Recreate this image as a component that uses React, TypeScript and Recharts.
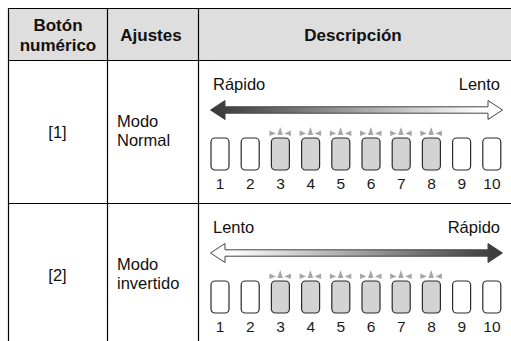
import React from 'react';
import { ComposedChart, Bar, XAxis, YAxis, LabelList } from 'recharts';

const FONT = '"Liberation Sans", Arial, Helvetica, sans-serif';

// buttons shown under each arrow
const buttonLabels = ['1', '2', '3', '4', '5', '6', '7', '8', '9', '10'];
const buttonSize = [1, 1, 1, 1, 1, 1, 1, 1, 1, 1];
const litButtons = [0, 0, 1, 1, 1, 1, 1, 1, 0, 0];

// table rows
const rowKeys = ['[1]', '[2]'];
const modeLines = [
  ['Modo', 'Normal'],
  ['Modo', 'invertido'],
];
const leftWords = ['Rápido', 'Lento'];
const rightWords = ['Lento', 'Rápido'];
const darkSide = ['left', 'right'];

const buttonData = buttonLabels.map((b, i) => ({
  button: b,
  size: buttonSize[i],
  lit: litButtons[i],
}));

function ButtonShape(props: any) {
  const { x, y, width, height, payload } = props;
  return (
    <rect
      x={x}
      y={y}
      width={width}
      height={height}
      rx={4}
      ry={4}
      fill={payload.lit ? '#d3d3d3' : '#ffffff'}
      stroke="#2b2b2b"
      strokeWidth={1.2}
    />
  );
}

function Sparkle(props: any) {
  const { x, y, width, value } = props;
  if (!value) return null;
  const cx = Number(x) + Number(width) / 2;
  const top = Number(y);
  const pts = (a: number[][]) => a.map((p) => `${cx + p[0]},${top + p[1]}`).join(' ');
  return (
    <g fill="#a6a6a6">
      <polygon points={pts([[-11, -7.5], [-4.5, -4.5], [-11, -2]])} />
      <polygon points={pts([[-3, -3], [2.5, -3], [-0.2, -11]])} />
      <polygon points={pts([[10.5, -7.5], [4, -4.5], [10.5, -2]])} />
    </g>
  );
}

function ButtonRow({ top }: { top: number }) {
  return (
    <div style={{ position: 'absolute', left: 205, top }}>
      <ComposedChart
        width={302}
        height={70}
        data={buttonData}
        margin={{ top: 13, right: 0, bottom: 0, left: 0 }}
        barCategoryGap={0}
      >
        <XAxis
          dataKey="button"
          interval={0}
          axisLine={false}
          tickLine={false}
          height={25}
          tick={{ fill: '#1a1a1a', fontSize: 15.5, fontFamily: FONT }}
        />
        <YAxis hide domain={[0, 1]} />
        <Bar dataKey="size" barSize={18} shape={ButtonShape} isAnimationActive={false}>
          <LabelList dataKey="lit" content={Sparkle} />
        </Bar>
      </ComposedChart>
    </div>
  );
}

function Arrow({ cy, side, id }: { cy: number; side: string; id: string }) {
  const l = 210.5;
  const r = 502.5;
  const hw = 14.5;
  const pts = [
    [l, cy],
    [l + hw, cy - 9.5],
    [l + hw, cy - 3.2],
    [r - hw, cy - 3.2],
    [r - hw, cy - 9.5],
    [r, cy],
    [r - hw, cy + 9.5],
    [r - hw, cy + 3.2],
    [l + hw, cy + 3.2],
    [l + hw, cy + 9.5],
  ]
    .map((p) => p.join(','))
    .join(' ');
  const dark = '#363636';
  return (
    <g>
      <defs>
        <linearGradient id={id} x1="0" x2="1" y1="0" y2="0">
          {side === 'left' ? (
            <>
              <stop offset="0" stopColor={dark} />
              <stop offset="0.93" stopColor="#ffffff" />
            </>
          ) : (
            <>
              <stop offset="0.07" stopColor="#ffffff" />
              <stop offset="1" stopColor={dark} />
            </>
          )}
        </linearGradient>
      </defs>
      <polygon points={pts} fill={`url(#${id})`} stroke="#444" strokeWidth={1} />
    </g>
  );
}

export default function App() {
  const rowTops = [60, 203];
  return (
    <div
      style={{
        position: 'absolute',
        left: 0,
        top: 0,
        width: 511,
        height: 341,
        background: '#ffffff',
        overflow: 'hidden',
        fontFamily: FONT,
      }}
    >
      <svg width={511} height={341} style={{ position: 'absolute', left: 0, top: 0 }}>
        <rect x={8.5} y={8.5} width={503} height={52} fill="#dedede" />
        <g stroke="#000" strokeWidth={1.2}>
          <line x1={8} y1={8.5} x2={511} y2={8.5} />
          <line x1={8} y1={60.5} x2={511} y2={60.5} />
          <line x1={8} y1={203.5} x2={511} y2={203.5} />
          <line x1={8.5} y1={8} x2={8.5} y2={341} />
          <line x1={107.5} y1={8} x2={107.5} y2={341} />
          <line x1={198.5} y1={8} x2={198.5} y2={341} />
        </g>
        <g fontFamily={FONT} fontSize={17} fontWeight="bold" fill="#111" textAnchor="middle">
          <text x={58} y={31}>Botón</text>
          <text x={58} y={51}>numérico</text>
          <text x={151} y={41}>Ajustes</text>
          <text x={353} y={41}>Descripción</text>
        </g>
        {rowTops.map((t, i) => (
          <g key={i} fontFamily={FONT} fontSize={16.5} fill="#111">
            <text x={57.5} y={t + 78} textAnchor="middle">{rowKeys[i]}</text>
            <text x={117} y={t + 67}>{modeLines[i][0]}</text>
            <text x={117} y={t + 86}>{modeLines[i][1]}</text>
            <text x={213} y={t + 30}>{leftWords[i]}</text>
            <text x={500} y={t + 30} textAnchor="end">{rightWords[i]}</text>
            <Arrow cy={t + 50} side={darkSide[i]} id={`arrowGrad${i}`} />
          </g>
        ))}
      </svg>
      <ButtonRow top={125} />
      <ButtonRow top={268} />
    </div>
  );
}
